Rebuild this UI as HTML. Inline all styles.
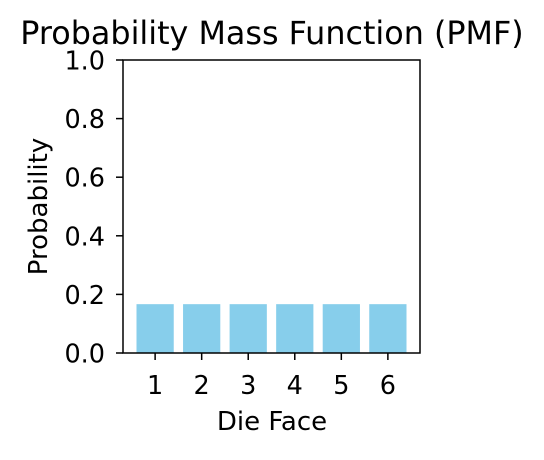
<!DOCTYPE html>
<html><head><meta charset="utf-8"><style>
html,body{margin:0;padding:0;background:#fff}
svg text{font-family:"DejaVu Sans","Liberation Sans",sans-serif;fill:#000}
</style></head><body>
<svg id="chart" width="544" height="455" xmlns="http://www.w3.org/2000/svg">
<text x="272" y="44" font-size="31.8" text-anchor="middle">Probability Mass Function (PMF)</text>
<g id="bars"></g>
<g id="xticks"></g>
<g id="yticks"></g>
<rect x="123" y="60" width="297" height="293" fill="none" stroke="#000" stroke-width="1.5"/>
<text x="272" y="430" font-size="26" text-anchor="middle">Die Face</text>
<text transform="translate(47,206.5) rotate(-90)" font-size="26" text-anchor="middle">Probability</text>
</svg>
<script>
const categories = [1, 2, 3, 4, 5, 6];
const probabilities = [1/6, 1/6, 1/6, 1/6, 1/6, 1/6];
const yTickLabels = ["0.0", "0.2", "0.4", "0.6", "0.8", "1.0"];
const yTickValues = [0, 0.2, 0.4, 0.6, 0.8, 1.0];

const L = 123, R = 420, T = 60, B = 353;
const xMin = 0.31, xMax = 6.69;
const xs = v => L + (v - xMin) / (xMax - xMin) * (R - L);
const ys = v => B - v * (B - T);
const ns = "http://www.w3.org/2000/svg";
const bars = document.getElementById('bars');
const xt = document.getElementById('xticks');
const yt = document.getElementById('yticks');

categories.forEach((c, i) => {
  const r = document.createElementNS(ns, 'rect');
  const x0 = xs(c - 0.4), x1 = xs(c + 0.4);
  r.setAttribute('x', x0);
  r.setAttribute('width', x1 - x0);
  r.setAttribute('y', ys(probabilities[i]));
  r.setAttribute('height', B - ys(probabilities[i]));
  r.setAttribute('fill', '#87ceeb');
  
  
  bars.appendChild(r);
  const tk = document.createElementNS(ns, 'line');
  tk.setAttribute('x1', xs(c)); tk.setAttribute('x2', xs(c));
  tk.setAttribute('y1', B); tk.setAttribute('y2', B + 7);
  tk.setAttribute('stroke', '#000');
  tk.setAttribute('stroke-width', '1.5');
  
  
  xt.appendChild(tk);
  const t = document.createElementNS(ns, 'text');
  t.setAttribute('x', xs(c)); t.setAttribute('y', B + 41);
  t.setAttribute('font-size', '25.5'); t.setAttribute('text-anchor', 'middle');
  t.textContent = c;
  
  
  xt.appendChild(t);
});

yTickValues.forEach((v, i) => {
  const tk = document.createElementNS(ns, 'line');
  tk.setAttribute('x1', L - 7); tk.setAttribute('x2', L);
  tk.setAttribute('y1', ys(v)); tk.setAttribute('y2', ys(v));
  tk.setAttribute('stroke', '#000');
  tk.setAttribute('stroke-width', '1.5');
  
  
  yt.appendChild(tk);
  const t = document.createElementNS(ns, 'text');
  t.setAttribute('x', L - 18); t.setAttribute('y', ys(v) + 9.5);
  t.setAttribute('font-size', '25.5'); t.setAttribute('text-anchor', 'end');
  t.textContent = yTickLabels[i];
  
  
  yt.appendChild(t);
});
</script>
</body></html>
